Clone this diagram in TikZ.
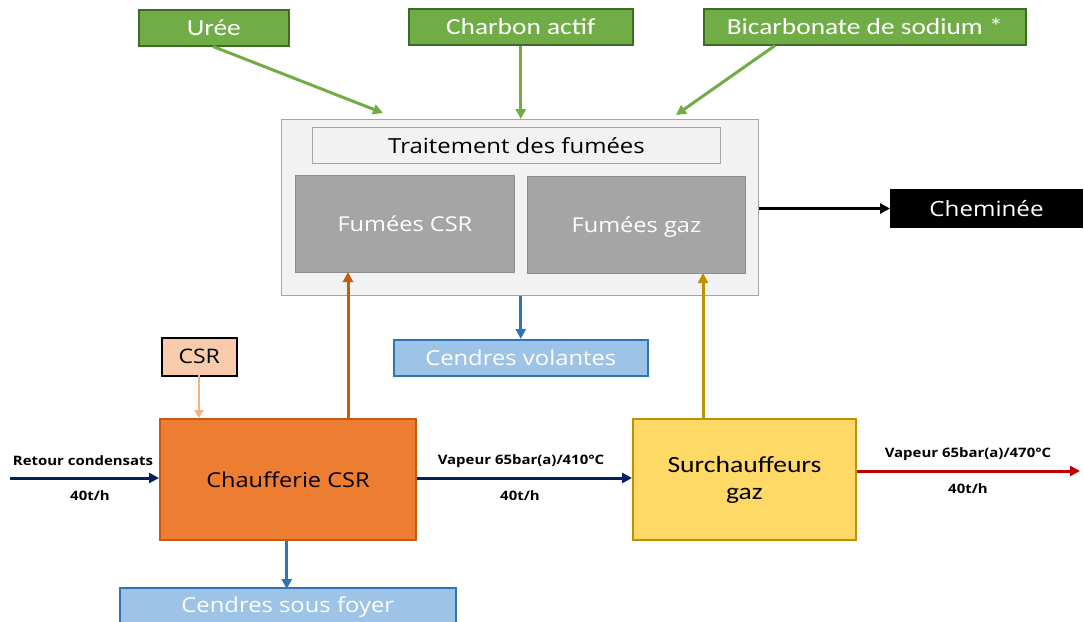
\documentclass[tikz,border=0pt]{standalone}
\usepackage{fontspec}
\setmainfont[FakeStretch=1.15]{Open Sans}
\newfontfamily\cali[FakeStretch=1.19]{Carlito}
\usetikzlibrary{arrows.meta}
\definecolor{grn}{HTML}{70AD47}
\definecolor{grnd}{HTML}{3E6B26}
\definecolor{bgg}{HTML}{F2F2F2}
\definecolor{brd}{HTML}{A6A6A6}
\definecolor{gry}{HTML}{A5A5A5}
\definecolor{lblue}{HTML}{9DC3E6}
\definecolor{dblue}{HTML}{2E75B6}
\definecolor{pch}{HTML}{F8CBAD}
\definecolor{pchar}{HTML}{F4B183}
\definecolor{org}{HTML}{ED7D31}
\definecolor{orgd}{HTML}{C55A11}
\definecolor{yel}{HTML}{FFD966}
\definecolor{yeld}{HTML}{BF9000}
\definecolor{navy}{HTML}{002060}
\definecolor{rd}{HTML}{C00000}
\begin{document}
\begin{tikzpicture}[x=1pt,y=-1pt,
  box/.style={draw,line width=1.5pt,inner sep=0pt,anchor=north west},
  greenbox/.style={box,fill=grn,draw=grnd,text=white,font=\cali\fontsize{23}{26}\selectfont},
  ashbox/.style={box,fill=lblue,draw=dblue,text=white,font=\fontsize{20.7}{24}\selectfont},
  grybox/.style={box,fill=gry,draw=gry!85!black,line width=0.8pt,text=white,font=\fontsize{20.5}{24}\selectfont},
  lbl/.style={font=\bfseries\fontsize{13}{15}\selectfont},
  arr/.style={-{Triangle[length=10pt,width=10pt]},line width=3pt},
]
\useasboundingbox (0,0) rectangle (1084,621);
% top green boxes
\node[greenbox,minimum width=150pt,minimum height=36pt] (uree) at (138,9) {Urée};
\node[greenbox,minimum width=224pt,minimum height=36pt] (charb) at (408,8) {Charbon actif};
\node[greenbox,minimum width=322pt,minimum height=36pt] (bicar) at (703,8) {Bicarbonate de sodium *};
% treatment
\node[box,fill=bgg,draw=brd,line width=1pt,minimum width=477pt,minimum height=176pt] (trait) at (281,119) {};
\node[box,fill=bgg,draw=brd,line width=1pt,minimum width=408pt,minimum height=36pt,font=\fontsize{20.8}{24}\selectfont] (traitlbl) at (312,127) {Traitement des fumées};
\node[grybox,minimum width=219pt,minimum height=97pt,text depth=-4pt] (fcsr) at (295,175) {Fumées CSR};
\node[grybox,minimum width=218pt,minimum height=97pt,text depth=-4pt] (fgaz) at (527,176) {Fumées gaz};
% chimney
\node[box,fill=black,draw=black,line width=1pt,text=white,minimum width=192pt,minimum height=38pt,font=\fontsize{21}{24}\selectfont] (chem) at (890,189) {Cheminée};
% ash
\node[ashbox,minimum width=254pt,minimum height=36pt] (cvol) at (393,339) {Cendres volantes};
\node[ashbox,minimum width=336pt,minimum height=38pt] (cfoy) at (119,587) {Cendres sous foyer};
% CSR
\node[box,fill=pch,draw=black,minimum width=75pt,minimum height=38pt,font=\fontsize{20}{24}\selectfont] (csr) at (161,337) {CSR};
% boilers
\node[box,fill=org,draw=orgd,line width=2pt,minimum width=256pt,minimum height=121pt,font=\fontsize{20.5}{24}\selectfont] (chauf) at (159,418) {Chaufferie CSR};
\node[box,fill=yel,draw=yeld,line width=2pt,minimum width=223pt,minimum height=121pt,align=center,font=\cali\fontsize{23.2}{27}\selectfont] (surch) at (632,418) {Surchauffeurs\\gaz};
% coordinates
\coordinate (rin) at (10,478);
\coordinate (rout) at (1080,471);
% arrows top
\draw[arr,grn] (uree.south west)++(75,0) -- (383,113);
\draw[arr,grn] (charb.south) -- (charb.south |- trait.north);
\draw[arr,grn] (bicar.south west)++(72,0) -- (676,115);
% chimney
\draw[arr,black,line width=2.5pt] (trait.east |- chem.west) -- (chem.west);
% ash
\draw[arr,dblue] (cvol.north |- trait.south) -- (cvol.north);
\draw[arr,dblue] (chauf.south -| cfoy.north) ++(-1,0) -- ++(0,48);
% csr feed
\draw[pchar,line width=2.5pt,-{Triangle[length=8pt,width=9pt]}] (199,375) -- (199,418);
% flue gas
\draw[arr,orgd] (348,418) -- (348,272);
\draw[arr,yeld] (703,418) -- (703,273);
% water/steam
\draw[arr,navy] (rin) -- (chauf.west |- rin);
\draw[arr,navy] (chauf.east |- rin) -- (surch.west |- rin);
\draw[arr,rd] (surch.east |- rout) -- (rout);
% labels
\node[lbl] (l1) at (83,461) {Retour condensats};
\node[lbl] (l2) at (90,496) {40t/h};
\node[lbl] (l3) at (521,461) {Vapeur 65bar(a)/410°C};
\node[lbl] (l4) at (520,496) {40t/h};
\node[lbl] (l5) at (968,454) {Vapeur 65bar(a)/470°C};
\node[lbl] (l6) at (968,489) {40t/h};
\end{tikzpicture}
\end{document}
